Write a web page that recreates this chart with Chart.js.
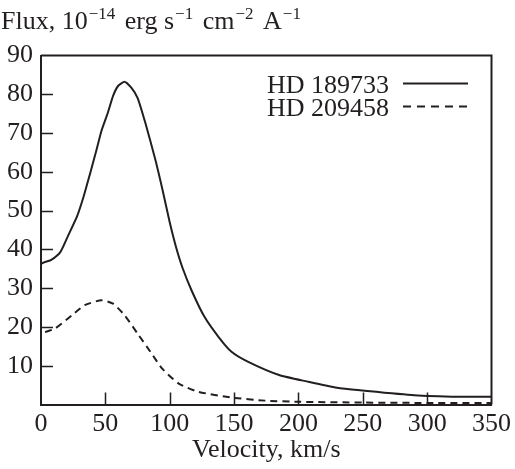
<!DOCTYPE html>
<html>
<head>
<meta charset="utf-8">
<script src="https://cdn.jsdelivr.net/npm/chart.js@4.4.1/dist/chart.umd.min.js"></script>
<style>
  html, body { margin: 0; padding: 0; background: #fff; }
  #wrap { width: 515px; height: 469px; }
</style>
</head>
<body>
<div id="wrap"><canvas id="fluxChart" width="515" height="469"></canvas></div>
<script>
// HD 189733 (solid) - velocity km/s, flux
var hd189733_v = [0, 0, 8, 15, 21, 28, 33, 38, 43, 47, 52, 56, 60, 65, 70, 75, 81, 89, 95, 100, 105, 110, 117, 127, 138, 148, 161, 185, 207, 230, 250, 290, 325, 350];
var hd189733_f = [18, 36.1, 37.3, 39.3, 43.5, 48.5, 53.5, 59.4, 65.5, 70.6, 75.3, 79.6, 82.2, 83.2, 81.8, 79.1, 72.7, 62.9, 54.5, 47, 40.5, 35.2, 29.4, 22.6, 17.4, 13.6, 11, 7.6, 5.9, 4.3, 3.6, 2.4, 2.0, 2.0];

// HD 209458 (dashed)
var hd209458_v = [0, 0, 11, 24, 34, 47, 56, 65, 75, 85, 94, 107, 122, 148, 174, 200, 250, 300, 350];
var hd209458_f = [10, 18, 19.6, 23, 25.6, 26.9, 26, 23, 18.3, 13.6, 9.3, 5.4, 3.3, 1.8, 1.0, 0.7, 0.5, 0.4, 0.4];

var seriesNames = ["HD 189733", "HD 209458"];
var xTicks = [0, 50, 100, 150, 200, 250, 300, 350];
var yTicks = [10, 20, 30, 40, 50, 60, 70, 80, 90];

var serif = "'Liberation Serif', 'DejaVu Serif', serif";
var ink = '#231f20';

function toPoints(xs, ys) {
  var pts = [];
  for (var i = 0; i < xs.length; i++) pts.push({x: xs[i], y: ys[i]});
  return pts;
}

// frame, inner ticks, title with superscripts, legend
var decorPlugin = {
  id: 'decor',
  afterDraw: function(chart) {
    var ctx = chart.ctx;
    var a = chart.chartArea;
    var xs = chart.scales.x, ys = chart.scales.y;
    ctx.save();
    ctx.strokeStyle = ink;
    ctx.lineWidth = 2;
    ctx.beginPath();
    ctx.moveTo(a.left, a.top);
    ctx.lineTo(a.right, a.top);
    ctx.lineTo(a.right, a.bottom);
    ctx.stroke();

    ctx.lineWidth = 1.5;
    ctx.beginPath();
    yTicks.forEach(function(v) {
      if (v >= 90) return;
      var py = Math.round(ys.getPixelForValue(v)) + 0.5;
      ctx.moveTo(a.left, py);
      ctx.lineTo(a.left + 12, py);
    });
    xTicks.forEach(function(v) {
      if (v <= 0 || v >= 350) return;
      var px = Math.round(xs.getPixelForValue(v)) + 0.5;
      ctx.moveTo(px, a.bottom);
      ctx.lineTo(px, a.bottom - 12);
    });
    ctx.stroke();

    // title
    ctx.fillStyle = ink;
    ctx.textBaseline = 'alphabetic';
    ctx.textAlign = 'left';
    var parts = [["Flux, 10", 0], ["\u221214", 1], [" erg s", 0], ["\u22121", 1], [" cm", 0], ["\u22122", 1], [" A", 0], ["\u22121", 1]];
    var x = 1, base = 29;
    parts.forEach(function(p) {
      ctx.font = (p[1] ? '17px ' : '26px ') + serif;
      if (!p[1] && x > 1) x += 3;
      ctx.fillText(p[0], x, p[1] ? base - 10 : base);
      x += ctx.measureText(p[0]).width + (p[1] ? 0 : 1);
    });

    // legend
    ctx.font = '26px ' + serif;
    var rows = [{y: 93, dash: []}, {y: 116, dash: [8, 6]}];
    rows.forEach(function(r, i) {
      ctx.fillText(seriesNames[i], 267, r.y);
      ctx.setLineDash(r.dash);
      ctx.lineWidth = 1.8;
      ctx.beginPath();
      ctx.moveTo(403, r.y - 9.5);
      ctx.lineTo(468, r.y - 9.5);
      ctx.stroke();
    });
    ctx.restore();
  }
};

var ctx = document.getElementById("fluxChart").getContext("2d");
var myChart = new Chart(ctx, {
  type: 'line',
  data: {
    datasets: [{
      label: seriesNames[0],
      data: toPoints(hd189733_v, hd189733_f),
      borderColor: ink,
      borderWidth: 2,
      pointRadius: 0,
      tension: 0.2,
      fill: false,
      clip: 4
    }, {
      label: seriesNames[1],
      data: toPoints(hd209458_v, hd209458_f),
      borderColor: ink,
      borderWidth: 2,
      borderDash: [7, 5],
      pointRadius: 0,
      tension: 0.2,
      fill: false,
      clip: 4
    }]
  },
  options: {
    responsive: false,
    animation: false,
    events: [],
    layout: { padding: { top: 55.5, right: 20, left: 0, bottom: 0 } },
    plugins: {
      legend: { display: false },
      tooltip: { enabled: false },
      title: { display: false }
    },
    scales: {
      x: {
        type: 'linear',
        min: 0, max: 350,
        afterBuildTicks: function(scale) {
          scale.ticks = xTicks.map(function(v) { return {value: v}; });
        },
        afterFit: function(scale) { scale.height = 64.5; },
        grid: { display: false, drawTicks: false },
        border: { display: true, color: ink, width: 2 },
        ticks: {
          padding: 4,
          maxRotation: 0,
          autoSkip: false,
          color: ink,
          font: { family: serif, size: 26 }
        },
        title: {
          display: true,
          text: 'Velocity, km/s',
          color: ink,
          font: { family: serif, size: 26 },
          padding: { top: 0, bottom: 3 }
        }
      },
      y: {
        min: 0, max: 90,
        afterBuildTicks: function(scale) {
          scale.ticks = yTicks.map(function(v) { return {value: v}; });
        },
        afterFit: function(scale) { scale.width = 41; },
        grid: { display: false, drawTicks: false },
        border: { display: true, color: ink, width: 2 },
        ticks: {
          padding: 8,
          autoSkip: false,
          color: ink,
          font: { family: serif, size: 26 }
        }
      }
    }
  },
  plugins: [decorPlugin]
});
</script>
</body>
</html>
